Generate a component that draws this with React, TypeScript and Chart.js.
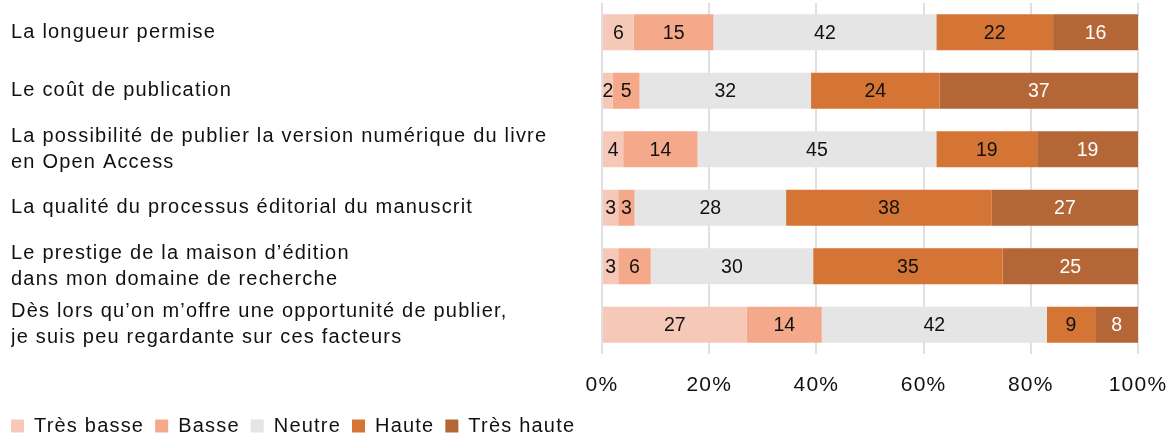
import { useEffect, useRef } from "react";
import { Chart, registerables } from "chart.js";

Chart.register(...registerables);

const categories: string[][] = [
  ["La longueur permise"],
  ["Le coût de publication"],
  ["La possibilité de publier la version numérique du livre", "en Open Access"],
  ["La qualité du processus éditorial du manuscrit"],
  ["Le prestige de la maison d’édition", "dans mon domaine de recherche"],
  ["Dès lors qu’on m’offre une opportunité de publier,", "je suis peu regardante sur ces facteurs"],
];

const seriesNames = ["Très basse", "Basse", "Neutre", "Haute", "Très haute"];
const tresBasse = [6, 2, 4, 3, 3, 27];
const basse = [15, 5, 14, 3, 6, 14];
const neutre = [42, 32, 45, 28, 30, 42];
const haute = [22, 24, 19, 38, 35, 9];
const tresHaute = [16, 37, 19, 27, 25, 8];
const xTickValues = [0, 20, 40, 60, 80, 100];

const seriesValues = [tresBasse, basse, neutre, haute, tresHaute];
const seriesColors = ["#f6c8b8", "#f4a98b", "#e5e5e5", "#d47535", "#b46636"];
const labelColors = ["#111111", "#111111", "#111111", "#111111", "#ffffff"];

const FONT = "'Liberation Sans', Arial, Helvetica, sans-serif";
const SPACING = "1.2px";

export default function App() {
  const ref = useRef<HTMLCanvasElement | null>(null);

  useEffect(() => {
    if (!ref.current) return;
    const totals = categories.map((_, i) =>
      seriesValues.reduce((s, arr) => s + arr[i], 0)
    );

    const spacing = {
      id: "spacing",
      beforeUpdate(chart: any) {
        chart.ctx.letterSpacing = SPACING;
      },
      beforeDraw(chart: any) {
        chart.ctx.letterSpacing = SPACING;
      },
    };

    const dataLabels = {
      id: "dataLabels",
      afterDatasetsDraw(chart: any) {
        const ctx = chart.ctx;
        ctx.save();
        ctx.letterSpacing = "0px";
        ctx.font = `19.5px ${FONT}`;
        ctx.textAlign = "center";
        ctx.textBaseline = "middle";
        chart.data.datasets.forEach((_ds: any, di: number) => {
          const meta = chart.getDatasetMeta(di);
          meta.data.forEach((el: any, i: number) => {
            const v = seriesValues[di][i];
            ctx.fillStyle = labelColors[di];
            ctx.fillText(String(v), (el.x + el.base) / 2, el.y + 1);
          });
        });
        ctx.restore();
      },
    };

    const shiftY = {
      id: "shiftY",
      afterLayout(chart: any) {
        const y = chart.scales.y;
        if (y) y.left = 11;
      },
    };

    const chart = new Chart(ref.current, {
      type: "bar",
      data: {
        labels: categories,
        datasets: seriesValues.map((arr, di) => ({
          label: seriesNames[di],
          data: arr.map((v, i) => (v / totals[i]) * 100),
          backgroundColor: seriesColors[di],
          borderWidth: 0,
          barPercentage: 0.614,
          categoryPercentage: 1,
        })),
      },
      options: {
        indexAxis: "y",
        animation: false,
        responsive: false,
        maintainAspectRatio: false,
        layout: { padding: { left: 0, right: 38, top: 3, bottom: 0 } },
        plugins: {
          tooltip: { enabled: false },
          legend: {
            position: "bottom",
            align: "start",
            labels: {
              boxWidth: 13,
              boxHeight: 13,
              padding: 11,
              color: "#111111",
              font: { family: FONT, size: 20 },
            },
          },
        },
        scales: {
          x: {
            stacked: true,
            min: 0,
            max: 100,
            afterBuildTicks(scale: any) {
              scale.ticks = xTickValues.map((v) => ({ value: v }));
            },
            afterFit(scale: any) {
              scale.height = 51;
              scale.paddingLeft = 0;
              scale.paddingRight = 0;
              scale.paddingTop = 0;
              scale.paddingBottom = 0;
            },
            border: { display: false },
            grid: { color: "#e0e0e0", lineWidth: 2, drawTicks: false },
            ticks: {
              padding: 19,
              color: "#111111",
              font: { family: FONT, size: 21 },
              callback: (v: any) => `${v}%`,
            },
          },
          y: {
            stacked: true,
            afterFit(scale: any) {
              scale.width = 602;
              scale.paddingLeft = 0;
              scale.paddingRight = 0;
              scale.paddingTop = 0;
              scale.paddingBottom = 0;
            },
            border: { display: false },
            grid: { display: false },
            ticks: {
              autoSkip: false,
              crossAlign: "far",
              color: "#111111",
              font: { family: FONT, size: 20, lineHeight: 1.3 },
            },
          },
        },
      },
      plugins: [spacing, dataLabels, shiftY],
    });
    return () => chart.destroy();
  }, []);

  return (
    <div style={{ position: "fixed", left: 0, top: 0, width: 1176, height: 446, background: "#fff" }}>
      <canvas ref={ref} width={1176} height={446} style={{ width: 1176, height: 446 }} />
    </div>
  );
}
